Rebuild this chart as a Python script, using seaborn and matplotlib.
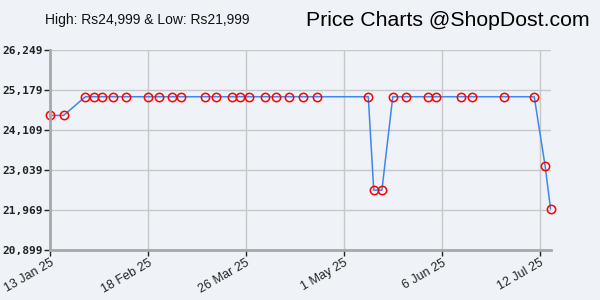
import matplotlib
matplotlib.use("Agg")
import matplotlib.pyplot as plt
import matplotlib.transforms as mtransforms
import seaborn as sns
import pandas as pd

dates = ["2025-01-13", "2025-01-18", "2025-01-26", "2025-01-29", "2025-02-01",
         "2025-02-05", "2025-02-10", "2025-02-18", "2025-02-22", "2025-02-27",
         "2025-03-02", "2025-03-11", "2025-03-15", "2025-03-21", "2025-03-24",
         "2025-03-27", "2025-04-02", "2025-04-06", "2025-04-11", "2025-04-16",
         "2025-04-21", "2025-05-10", "2025-05-12", "2025-05-15", "2025-05-19",
         "2025-05-24", "2025-06-01", "2025-06-04", "2025-06-13", "2025-06-17",
         "2025-06-29", "2025-07-10", "2025-07-14", "2025-07-16"]
prices = [24499, 24499, 24999, 24999, 24999,
          24999, 24999, 24999, 24999, 24999,
          24999, 24999, 24999, 24999, 24999,
          24999, 24999, 24999, 24999, 24999,
          24999, 24999, 22499, 22499, 24999,
          24999, 24999, 24999, 24999, 24999,
          24999, 24999, 23149, 21999]
y_ticks = [20899, 21969, 23039, 24109, 25179, 26249]
x_tick_dates = ["2025-01-13", "2025-02-18", "2025-03-26", "2025-05-01", "2025-06-06", "2025-07-12"]
x_tick_labels = ["13 Jan 25", "18 Feb 25", "26 Mar 25", "1 May 25", "6 Jun 25", "12 Jul 25"]

df = pd.DataFrame({"date": pd.to_datetime(dates), "price": prices})

sns.set_theme(style="whitegrid")
bg = "#eff2f6"
fig = plt.figure(figsize=(6, 3), dpi=100, facecolor=bg)
ax = fig.add_axes([50/600, 50/300, 501/600, 200/300])
ax.set_facecolor(bg)

sns.lineplot(data=df, x="date", y="price", ax=ax, color="#3f86f0", linewidth=1.1,
             marker="o", markersize=6, markerfacecolor="none",
             markeredgecolor="#ff0000", markeredgewidth=1.1, clip_on=False)

ax.set_ylim(y_ticks[0], y_ticks[-1])
ax.set_xlim(pd.Timestamp("2025-01-13"), pd.Timestamp("2025-07-16 04:00"))
ax.set_yticks(y_ticks)
ax.set_yticklabels([f"{v:,}" for v in y_ticks], fontfamily="DejaVu Sans Mono",
                   fontweight="bold", fontsize=8)
ax.set_xticks(pd.to_datetime(x_tick_dates))
ax.set_xticklabels(x_tick_labels, rotation=30, ha="right", rotation_mode="anchor",
                   fontsize=9, fontfamily="Liberation Sans")
offset = mtransforms.ScaledTranslation(6/100, 0, fig.dpi_scale_trans)
for lbl in ax.get_xticklabels():
    lbl.set_transform(lbl.get_transform() + offset)
ax.set_xlabel("")
ax.set_ylabel("")
ax.grid(True, color="#c8c8c8", linewidth=1)
for s in ["top", "right"]:
    ax.spines[s].set_visible(False)
for s in ["left", "bottom"]:
    ax.spines[s].set_visible(True)
    ax.spines[s].set_color("#a8a8a8")
    ax.spines[s].set_linewidth(2)
ax.tick_params(axis="both", which="both", length=4, width=1, color="#222222",
               labelcolor="#222222", direction="out", pad=1)
ax.tick_params(axis="x", bottom=True)
ax.tick_params(axis="y", left=True)

fig.text(147/600, 1 - 20/300, "High: Rs24,999 & Low: Rs21,999", ha="center", va="center",
         fontsize=10, fontfamily="Liberation Sans", color="#111111")
fig.text(590/600, 1 - 20/300, "Price Charts @ShopDost.com", ha="right", va="center",
         fontsize=15.3, fontfamily="Liberation Sans", color="#000000")

fig.savefig("out.png", dpi=100, facecolor=bg)
